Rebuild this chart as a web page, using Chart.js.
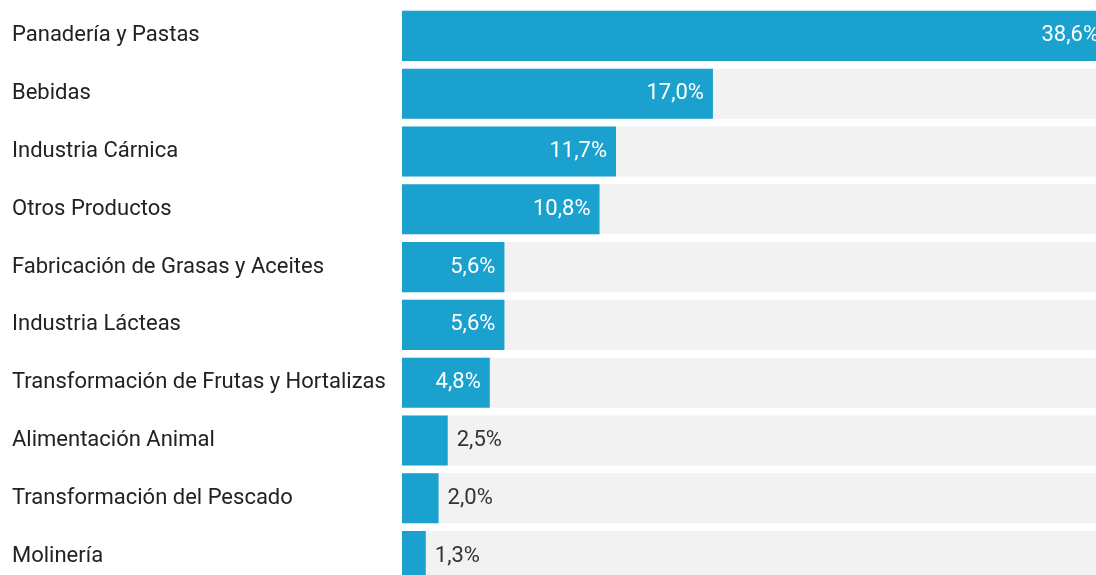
<!DOCTYPE html>
<html>
<head>
<meta charset="utf-8">
<script src="https://cdn.jsdelivr.net/npm/chart.js@4/dist/chart.umd.min.js"></script>
<style>
  html, body { margin: 0; padding: 0; background: #fff; overflow: hidden; }
  #wrap { width: 1096px; height: 575px; overflow: hidden; }
</style>
</head>
<body>
<div id="wrap"><canvas id="chart" width="1110" height="585"></canvas></div>
<script>
const categories = [
  "Panadería y Pastas",
  "Bebidas",
  "Industria Cárnica",
  "Otros Productos",
  "Fabricación de Grasas y Aceites",
  "Industria Lácteas",
  "Transformación de Frutas y Hortalizas",
  "Alimentación Animal",
  "Transformación del Pescado",
  "Molinería"
]
const shares = [38.6, 17.0, 11.7, 10.8, 5.6, 5.6, 4.8, 2.5, 2.0, 1.3]
const maxShare = 38.6
const track = categories.map(() => maxShare)

const fmt = v => v.toFixed(1).replace('.', ',') + '%'

// value labels: white inside wide bars, dark just past narrow ones
const valueLabels = {
  id: 'valueLabels',
  afterDatasetsDraw(chart) {
    const ctx = chart.ctx
    const meta = chart.getDatasetMeta(1)
    ctx.save()
    ctx.font = '22px Roboto'
    ctx.textBaseline = 'middle'
    meta.data.forEach((bar, i) => {
      const text = fmt(shares[i])
      const w = bar.x - bar.base
      const tw = ctx.measureText(text).width
      if (w > tw + 20) {
        ctx.fillStyle = '#ffffff'
        ctx.textAlign = 'right'
        ctx.fillText(text, bar.x - 9, bar.y)
      } else {
        ctx.fillStyle = '#333333'
        ctx.textAlign = 'left'
        ctx.fillText(text, bar.x + 9, bar.y)
      }
    })
    ctx.restore()
  }
}

new Chart(document.getElementById('chart'), {
  type: 'bar',
  data: {
    labels: categories,
    datasets: [
      {
        data: track,
        backgroundColor: '#f2f2f2',
        barPercentage: 0.866,
        categoryPercentage: 1,
        order: 2
      },
      {
        data: shares,
        backgroundColor: '#1aa1ce',
        barPercentage: 0.866,
        categoryPercentage: 1,
        order: 1
      }
    ]
  },
  options: {
    indexAxis: 'y',
    responsive: false,
    animation: false,
    devicePixelRatio: 1,
    grouped: false,
    layout: { padding: { left: 12, top: 7, right: 2, bottom: 0 } },
    plugins: {
      legend: { display: false },
      tooltip: { enabled: false }
    },
    scales: {
      x: {
        display: false,
        min: 0,
        max: maxShare
      },
      y: {
        grid: { display: false },
        border: { display: false },
        afterFit: s => {
          s.width = 390
          s.paddingTop = 0
          s.paddingBottom = 0
        },
        ticks: {
          crossAlign: 'far',
          padding: 0,
          color: '#222222',
          font: { family: 'Roboto', size: 22 }
        }
      }
    }
  },
  plugins: [valueLabels]
})
</script>
</body>
</html>
